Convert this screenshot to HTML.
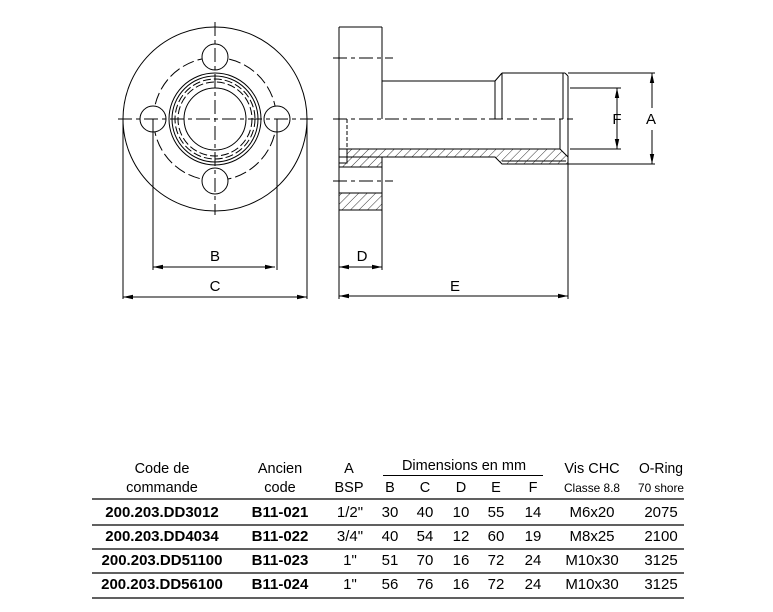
<!DOCTYPE html>
<html><head><meta charset="utf-8"><style>
html,body{margin:0;padding:0;background:#fff;}
svg{display:block;font-family:"Liberation Sans",Arial,sans-serif;}
</style></head><body>
<svg width="773" height="612" viewBox="0 0 773 612" xmlns="http://www.w3.org/2000/svg">
<defs>
<pattern id="h" patternUnits="userSpaceOnUse" width="6" height="6" patternTransform="rotate(45)">
<line x1="0" y1="0" x2="0" y2="6" stroke="#000" stroke-width="0.8"/>
</pattern>
<marker id="ar" markerWidth="10" markerHeight="6" refX="10" refY="3" orient="auto" markerUnits="userSpaceOnUse">
<path d="M0,0.8 L10,3 L0,5.2 Z" fill="#000"/>
</marker>
</defs>
<g fill="none" stroke="#000" stroke-width="1">
<!-- front view -->
<circle cx="215" cy="119" r="92"/>
<circle cx="215" cy="119" r="61.5" stroke-dasharray="12,4"/>
<circle cx="215" cy="119" r="46"/>
<circle cx="215" cy="119" r="43"/>
<circle cx="215" cy="119" r="40" stroke-dasharray="8,3"/>
<circle cx="215" cy="119" r="37" stroke-dasharray="8,3"/>
<circle cx="215" cy="119" r="31"/>
<circle cx="153" cy="119" r="13" fill="#fff"/>
<circle cx="277" cy="119" r="13" fill="#fff"/>
<circle cx="215" cy="57" r="13" fill="#fff"/>
<circle cx="215" cy="181" r="13" fill="#fff"/>
<line x1="118" y1="119" x2="313" y2="119" stroke-dasharray="14,4,4,4"/>
<line x1="215" y1="22" x2="215" y2="215" stroke-dasharray="14,4,4,4"/>
<!-- B C dims -->
<line x1="153" y1="119" x2="153" y2="270"/>
<line x1="277" y1="119" x2="277" y2="270"/>
<line x1="155" y1="267" x2="275" y2="267" marker-end="url(#ar)" marker-start="url(#ar)" style="marker-start:none"/>
<line x1="275" y1="267" x2="153" y2="267" marker-end="url(#ar)"/>
<line x1="123" y1="119" x2="123" y2="299"/>
<line x1="307" y1="119" x2="307" y2="299"/>
<line x1="125" y1="297" x2="307" y2="297" marker-end="url(#ar)"/>
<line x1="305" y1="297" x2="123" y2="297" marker-end="url(#ar)"/>
<!-- side view -->
<path d="M339,149 L560,149 L568,157 L568,164 L502,164 L495,157 L382,157 L382,167 L339,167 Z" fill="url(#h)"/>
<rect x="339" y="193" width="43" height="17" fill="url(#h)"/>
<rect x="339" y="149" width="8" height="14" fill="#fff"/>
<line x1="339" y1="27" x2="339" y2="210"/>
<line x1="339" y1="27" x2="382" y2="27"/>
<line x1="382" y1="27" x2="382" y2="119"/>
<line x1="339" y1="157" x2="382" y2="157"/>
<line x1="339" y1="193" x2="382" y2="193"/>
<line x1="339" y1="210" x2="382" y2="210"/>
<line x1="382" y1="167" x2="382" y2="210"/>
<line x1="339" y1="167" x2="382" y2="167"/>
<line x1="382" y1="81" x2="495" y2="81"/>
<line x1="495" y1="81" x2="502" y2="73"/>
<line x1="502" y1="73" x2="565" y2="73"/>
<line x1="565" y1="73" x2="568" y2="76"/>
<line x1="568" y1="76" x2="568" y2="164"/>
<line x1="495" y1="81" x2="495" y2="119"/>
<line x1="502" y1="73" x2="502" y2="119"/>
<line x1="563" y1="73" x2="563" y2="119"/>
<line x1="560" y1="119" x2="560" y2="149"/>
<line x1="347" y1="119" x2="347" y2="149" stroke-dasharray="4,2"/>
<line x1="502" y1="161" x2="566" y2="161"/>
<line x1="333" y1="119" x2="573" y2="119" stroke-dasharray="14,4,4,4"/>
<line x1="333" y1="58" x2="393" y2="58" stroke-dasharray="14,4,4,4"/>
<line x1="333" y1="181" x2="393" y2="181" stroke-dasharray="14,4,4,4"/>
<!-- F A -->
<line x1="570" y1="88" x2="621" y2="88"/>
<line x1="570" y1="149" x2="621" y2="149"/>
<line x1="617" y1="119" x2="617" y2="88" marker-end="url(#ar)"/>
<line x1="617" y1="119" x2="617" y2="149" marker-end="url(#ar)"/>
<line x1="568" y1="73" x2="655" y2="73"/>
<line x1="568" y1="164" x2="655" y2="164"/>
<line x1="652" y1="108" x2="652" y2="73" marker-end="url(#ar)"/>
<line x1="652" y1="130" x2="652" y2="164" marker-end="url(#ar)"/>
<!-- D E -->
<line x1="339" y1="210" x2="339" y2="299"/>
<line x1="382" y1="210" x2="382" y2="270"/>
<line x1="360" y1="267" x2="339" y2="267" marker-end="url(#ar)"/>
<line x1="360" y1="267" x2="382" y2="267" marker-end="url(#ar)"/>
<line x1="568" y1="164" x2="568" y2="299"/>
<line x1="450" y1="296" x2="339" y2="296" marker-end="url(#ar)"/>
<line x1="450" y1="296" x2="568" y2="296" marker-end="url(#ar)"/>
</g>
<g font-size="15" text-anchor="middle" fill="#000">
<text x="215" y="261">B</text>
<text x="215" y="291">C</text>
<text x="362" y="261">D</text>
<text x="455" y="291">E</text>
<text x="617" y="124">F</text>
<text x="651" y="124">A</text>
</g>
<!-- table -->
<g fill="#000" text-anchor="middle" font-size="14.5">
<text x="162" y="473">Code de</text>
<text x="162" y="492">commande</text>
<text x="280" y="473">Ancien</text>
<text x="280" y="492">code</text>
<text x="349" y="473">A</text>
<text x="349" y="492">BSP</text>
<text x="464" y="470">Dimensions en mm</text>
<text x="390" y="492">B</text>
<text x="425" y="492">C</text>
<text x="461" y="492">D</text>
<text x="496" y="492">E</text>
<text x="533" y="492">F</text>
<text x="592" y="473">Vis CHC</text>
<text x="592" y="492" font-size="12" textLength="56" lengthAdjust="spacingAndGlyphs">Classe 8.8</text>
<text x="661" y="473" textLength="44" lengthAdjust="spacingAndGlyphs">O-Ring</text>
<text x="661" y="492" font-size="12" textLength="46" lengthAdjust="spacingAndGlyphs">70 shore</text>
</g>
<line x1="383" y1="475.5" x2="543" y2="475.5" stroke="#000"/>
<g stroke="#000" stroke-width="1.2">
<line x1="92" y1="499" x2="684" y2="499"/>
<line x1="92" y1="525" x2="684" y2="525"/>
<line x1="92" y1="549" x2="684" y2="549"/>
<line x1="92" y1="573" x2="684" y2="573"/>
<line x1="92" y1="598" x2="684" y2="598"/>
</g>
<g fill="#000" text-anchor="middle" font-size="15">
<g font-weight="bold">
<text x="162" y="517">200.203.DD3012</text>
<text x="162" y="541">200.203.DD4034</text>
<text x="162" y="565">200.203.DD51100</text>
<text x="162" y="589">200.203.DD56100</text>
<text x="280" y="517">B11-021</text>
<text x="280" y="541">B11-022</text>
<text x="280" y="565">B11-023</text>
<text x="280" y="589">B11-024</text>
</g>
<text x="350" y="517">1/2"</text><text x="390" y="517">30</text><text x="425" y="517">40</text><text x="461" y="517">10</text><text x="496" y="517">55</text><text x="533" y="517">14</text><text x="592" y="517">M6x20</text><text x="661" y="517">2075</text>
<text x="350" y="541">3/4"</text><text x="390" y="541">40</text><text x="425" y="541">54</text><text x="461" y="541">12</text><text x="496" y="541">60</text><text x="533" y="541">19</text><text x="592" y="541">M8x25</text><text x="661" y="541">2100</text>
<text x="350" y="565">1"</text><text x="390" y="565">51</text><text x="425" y="565">70</text><text x="461" y="565">16</text><text x="496" y="565">72</text><text x="533" y="565">24</text><text x="592" y="565">M10x30</text><text x="661" y="565">3125</text>
<text x="350" y="589">1"</text><text x="390" y="589">56</text><text x="425" y="589">76</text><text x="461" y="589">16</text><text x="496" y="589">72</text><text x="533" y="589">24</text><text x="592" y="589">M10x30</text><text x="661" y="589">3125</text>
</g>
</svg>
</body></html>
